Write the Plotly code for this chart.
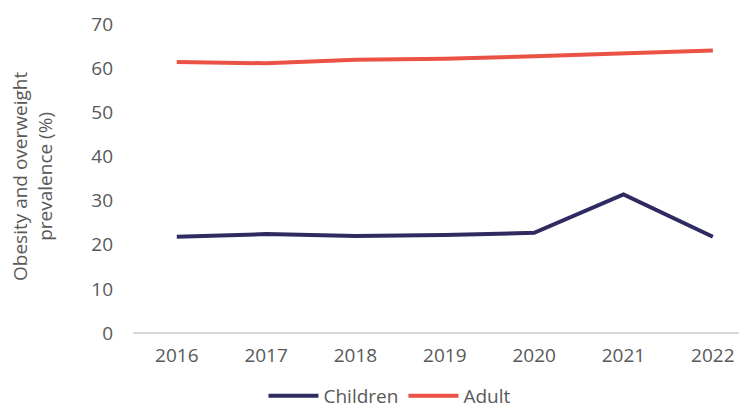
import plotly.graph_objects as go

years = ["2016", "2017", "2018", "2019", "2020", "2021", "2022"]
children = [21.8, 22.4, 22.0, 22.2, 22.7, 31.4, 21.8]
adult = [61.4, 61.1, 61.9, 62.1, 62.7, 63.3, 64.0]

font_family = "Open Sans"
grey = "#595959"
fs = 19

# page has an 8px body margin; figure sized/offset to compensate
W, H = 739, 400
L, T, PW, PH = 125, 16, 612, 309

fig = go.Figure()
fig.add_trace(go.Scatter(x=years, y=children, name="Children", mode="lines",
                         line=dict(color="#2F2B61", width=4)))
fig.add_trace(go.Scatter(x=years, y=adult, name="Adult", mode="lines",
                         line=dict(color="#EA5246", width=4)))

fig.update_layout(
    width=W, height=H,
    margin=dict(l=L, r=W - L - PW, t=T, b=H - T - PH, autoexpand=False),
    paper_bgcolor="white", plot_bgcolor="white",
    font=dict(family=font_family, size=fs, color=grey),
    showlegend=True,
    legend=dict(orientation="h", x=(390 - 133) / PW, xanchor="center", xref="paper",
                y=(H - 388) / H, yanchor="middle", yref="container",
                font=dict(size=fs, color=grey), tracegroupgap=0, itemwidth=50,
                bgcolor="rgba(0,0,0,0)"),
    xaxis=dict(type="category", range=[-0.49, 6.36], showgrid=False, automargin=False,
               showline=False, zeroline=False, ticks="", tickfont=dict(size=fs, color=grey),
               ticklabelstandoff=9),
    yaxis=dict(range=[0, 70], dtick=10, showgrid=False, zeroline=True, automargin=False,
               zerolinecolor="#D9D9D9", zerolinewidth=1.5, showline=False,
               tickfont=dict(size=fs, color=grey), ticklabelstandoff=19),
    annotations=[dict(text="Obesity and overweight<br>prevalence (%)", textangle=-90,
                      xref="paper", yref="paper", x=(32 - 133) / PW, y=(333 - 177) / PH,
                      xanchor="center", yanchor="middle", showarrow=False,
                      font=dict(size=fs, color=grey))],
)

fig.write_html("out.html")
